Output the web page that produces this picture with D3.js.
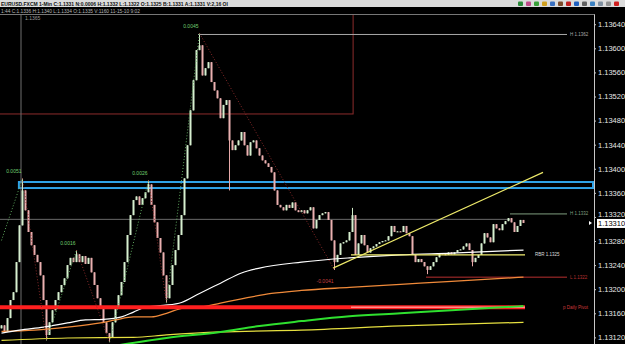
<!DOCTYPE html>
<html>
<head>
<meta charset="utf-8">
<script src="https://cdn.jsdelivr.net/npm/d3@7"></script>
<style>
html, body { margin: 0; padding: 0; background: #000; overflow: hidden; }
svg { display: block; }
</style>
</head>
<body>
<div class="chart"></div>
<script>
var width = 625, height = 344,
    plotTop = 14, plotRight = 594, nSlots = 198;

// 1-minute closes, one per bar
var closes = [1.13140,1.13129,1.13152,1.13182,1.13195,1.13245,1.13306,1.13364,1.13331,1.13295,
  1.13273,1.13257,1.13245,1.13223,1.13182,1.13124,1.13145,1.13165,1.13182,1.13195,
  1.13207,1.13218,1.13240,1.13252,1.13245,1.13258,1.13245,1.13255,1.13242,1.13252,
  1.13228,1.13207,1.13185,1.13169,1.13145,1.13127,1.13119,1.13145,1.13169,1.13190,
  1.13212,1.13245,1.13290,1.13323,1.13348,1.13354,1.13340,1.13351,1.13361,1.13374,
  1.13340,1.13311,1.13285,1.13261,1.13223,1.13185,1.13207,1.13240,1.13265,1.13290,
  1.13323,1.13384,1.13439,1.13497,1.13547,1.13597,1.13605,1.13555,1.13567,1.13577,
  1.13544,1.13530,1.13517,1.13484,1.13506,1.13514,1.13447,1.13431,1.13439,1.13447,
  1.13461,1.13439,1.13422,1.13444,1.13447,1.13434,1.13422,1.13414,1.13409,1.13403,
  1.13394,1.13364,1.13340,1.13336,1.13331,1.13340,1.13335,1.13344,1.13331,1.13328,
  1.13331,1.13326,1.13331,1.13336,1.13301,1.13315,1.13323,1.13326,1.13328,1.13315,
  1.13281,1.13245,1.13257,1.13276,1.13278,1.13281,1.13295,1.13323,1.13257,1.13276,
  1.13290,1.13273,1.13261,1.13268,1.13271,1.13275,1.13278,1.13280,1.13281,1.13288,
  1.13305,1.13295,1.13296,1.13295,1.13305,1.13293,1.13288,1.13257,1.13245,1.13250,
  1.13245,1.13238,1.13232,1.13238,1.13245,1.13253,1.13260,1.13258,1.13257,1.13261,
  1.13258,1.13261,1.13265,1.13266,1.13271,1.13276,1.13265,1.13245,1.13252,1.13257,
  1.13276,1.13293,1.13286,1.13278,1.13308,1.13301,1.13298,1.13308,1.13313,1.13318,
  1.13311,1.13295,1.13305,1.13315,1.13310];
var firstOpen = 1.13135;
// wick extremes of the spiky bars (bar index -> price)
var spikeHighs = {7: 1.13384, 25: 1.13265, 49: 1.13381, 66: 1.13625, 117: 1.13335};
var spikeLows = {15: 1.13115, 36: 1.13112, 55: 1.13177, 76: 1.13364, 111: 1.13232, 142: 1.13225, 157: 1.13238};

// moving averages, [bar index, price]
var whiteMA = [[0,1.13127],[6,1.13132],[14,1.13137],[22,1.13144],[28,1.13149],[34,1.13150],[40,1.13154],
  [44,1.13162],[48,1.13170],[54,1.13173],[60,1.13178],[66,1.13193],[73,1.13210],[80,1.13227],[86,1.13235],
  [100,1.13245],[116,1.13252],[133,1.13257],[150,1.13260],[174,1.13265]];
var orangeMA = [[0,1.13130],[11,1.13132],[22,1.13137],[33,1.13144],[38,1.13149],[44,1.13154],[50,1.13154],
  [55,1.13160],[61,1.13169],[66,1.13170],[73,1.13177],[80,1.13184],[90,1.13193],[100,1.13198],[116,1.13203],
  [133,1.13208],[150,1.13213],[174,1.13220]];
var yellowMA = [[0,1.13115],[22,1.13119],[44,1.13120],[55,1.13124],[73,1.13129],[100,1.13132],[133,1.13139],[174,1.13145]];
var greenMA = [[39,1.13107],[55,1.13119],[73,1.13129],[86,1.13139],[100,1.13147],[116,1.13155],[133,1.13160],[150,1.13165],[174,1.13172]];

// zigzag swing points and leg labels
var swings = [[0,1.13281],[7,1.13384],[15,1.13115],[25,1.13265],[36,1.13112],[49,1.13381],[55,1.13177],[66,1.13625],[111,1.13232]];
var swingLabels = ["", "0.0051", "", "0.0016", "", "0.0026", "", "0.0045", "-0.0041"];

// levels drawn on the chart
var levelNames = ["H 1.1362", "H 1.1332", "L 1.1322"];
var levelPrices = [1.13623, 1.13325, 1.13220];
var levelStarts = [66, 170, 142];
var levelColors = ["#a8a8a8", "#7f9f7f", "#b83030"];
var levelEnd = 189;
var pivotPrice = 1.13170, pivotName = "p Daily Pivot";
var rbrPrice = 1.13257, rbrStart = 117, rbrName = "RBR 1.1325";
var greyLevel = 1.13316;
var trendLine = [[111, 1.13235], [181, 1.13394]];
var zoneBlue = [1.13368, 1.13378], zoneBlueStart = 6.3;
var boxBrown = [1.13491, 117.7];
var sessionBar = 7, sessionLabel = "1.1365";

var yTicks = [1.13120,1.13160,1.13200,1.13240,1.13280,1.13320,1.13360,1.13400,1.13440,1.13480,1.13520,1.13560,1.13600,1.13640];
var lastPrice = 1.13310;
var header1 = "EURUSD.FXCM 1-Min  C:1.1331  N:0.0006  H:1.1332  L:1.1322  O:1.1325  B:1.1331  A:1.1331  V:2,16  OI";
var header2 = "1:44  C:1.1336  H:1.1340  L:1.1334  O:1.1335  V:1160  11-15-10  9:02";
var toolColors = ["#2a8a3a","#c04a8a","#3aa03a","#d0a020","#3a70c0","#7a4a2a","#c02020","#2060c0","#606060","#3a80c0","#8090a0","#909090","#d02020"];

var x = d3.scaleLinear().domain([0, nSlots]).range([0, plotRight]);
var y = d3.scaleLinear().domain([1.13109, 1.13657]).range([height, plotTop]);

var svg = d3.select(".chart").append("svg")
    .attr("width", width)
    .attr("height", height)
    .style("font-family", "'Liberation Sans', Arial, sans-serif");

svg.append("rect").attr("width", width).attr("height", height).attr("fill", "#000");

svg.append("defs").append("clipPath").attr("id", "plotclip")
  .append("rect").attr("x", 0).attr("y", plotTop).attr("width", plotRight).attr("height", height - plotTop);

var plot = svg.append("g").attr("clip-path", "url(#plotclip)");

// brown box and blue zone
plot.append("rect")
    .attr("x", -5).attr("y", plotTop - 5)
    .attr("width", x(boxBrown[1]) + 5)
    .attr("height", y(boxBrown[0]) - plotTop + 5)
    .attr("fill", "none").attr("stroke", "#8c2c2c").attr("stroke-width", 1);

plot.append("rect")
    .attr("x", x(zoneBlueStart)).attr("y", y(zoneBlue[1]))
    .attr("width", plotRight - x(zoneBlueStart) - 1)
    .attr("height", y(zoneBlue[0]) - y(zoneBlue[1]))
    .attr("fill", "none").attr("stroke", "#2fa3e8").attr("stroke-width", 2);

// session line
plot.append("line")
    .attr("x1", x(sessionBar)).attr("x2", x(sessionBar))
    .attr("y1", plotTop).attr("y2", height)
    .attr("stroke", "#6e6e6e").attr("stroke-width", 1);

plot.append("line")
    .attr("x1", 0).attr("x2", x(levelStarts[1]))
    .attr("y1", y(greyLevel)).attr("y2", y(greyLevel))
    .attr("stroke", "#6a6a6a").attr("stroke-width", 1);

plot.selectAll(".level")
    .data(levelPrices)
    .enter()
    .append("line")
    .attr("class", "level")
    .attr("x1", function(d, i) { return x(levelStarts[i]); })
    .attr("x2", x(levelEnd))
    .attr("y1", function(d) { return y(d); })
    .attr("y2", function(d) { return y(d); })
    .attr("stroke", function(d, i) { return levelColors[i]; })
    .attr("stroke-width", 1);

// candles
var bars = closes.map(function(c, i) {
  var o = i == 0 ? firstOpen : closes[i - 1];
  var hi = Math.max(o, c), lo = Math.min(o, c);
  if (spikeHighs[i] != null) hi = Math.max(hi, spikeHighs[i]);
  if (spikeLows[i] != null) lo = Math.min(lo, spikeLows[i]);
  return {i: i, o: o, c: c, h: hi, l: lo};
});

var candles = plot.append("g").attr("class", "candles");
candles.selectAll(".wick")
    .data(bars)
    .enter()
    .append("line")
    .attr("x1", function(d) { return x(d.i + 0.5); })
    .attr("x2", function(d) { return x(d.i + 0.5); })
    .attr("y1", function(d) { return y(d.h); })
    .attr("y2", function(d) { return y(d.l); })
    .attr("stroke", function(d) { return d.c >= d.o ? "#cfe9c6" : "#e7a9a9"; })
    .attr("stroke-width", 1);

candles.selectAll(".body")
    .data(bars)
    .enter()
    .append("rect")
    .attr("x", function(d) { return x(d.i + 0.5) - 1; })
    .attr("width", 2)
    .attr("y", function(d) { return y(Math.max(d.o, d.c)); })
    .attr("height", function(d) { return Math.max(1, Math.abs(y(d.o) - y(d.c))); })
    .attr("fill", function(d) { return d.c >= d.o ? "#d6efcf" : "#eab0b0"; });

// moving averages
var maLine = d3.line()
    .x(function(d) { return x(d[0] + 0.5); })
    .y(function(d) { return y(d[1]); })
    .curve(d3.curveMonotoneX);

plot.append("path").datum(yellowMA).attr("d", maLine)
    .attr("fill", "none").attr("stroke", "#e6e040").attr("stroke-width", 1.2);
plot.append("path").datum(orangeMA).attr("d", maLine)
    .attr("fill", "none").attr("stroke", "#f08a3a").attr("stroke-width", 1.3);
plot.append("path").datum(whiteMA).attr("d", maLine)
    .attr("fill", "none").attr("stroke", "#ffffff").attr("stroke-width", 1.2);

// daily pivot
plot.append("line")
    .attr("x1", 0).attr("x2", x(closes.length))
    .attr("y1", y(pivotPrice)).attr("y2", y(pivotPrice))
    .attr("stroke", "#ff1f1f").attr("stroke-width", 4);
plot.append("line")
    .attr("x1", x(rbrStart)).attr("x2", x(closes.length))
    .attr("y1", y(pivotPrice)).attr("y2", y(pivotPrice))
    .attr("stroke", "#ff8a8a").attr("stroke-width", 1.5);

plot.append("path").datum(greenMA).attr("d", maLine)
    .attr("fill", "none").attr("stroke", "#2fe02f").attr("stroke-width", 2);

// RBR level and trend line
plot.append("line")
    .attr("x1", x(rbrStart)).attr("x2", x(closes.length))
    .attr("y1", y(rbrPrice)).attr("y2", y(rbrPrice))
    .attr("stroke", "#f2ee70").attr("stroke-width", 1.2);

plot.append("line")
    .attr("x1", x(trendLine[0][0])).attr("y1", y(trendLine[0][1]))
    .attr("x2", x(trendLine[1][0])).attr("y2", y(trendLine[1][1]))
    .attr("stroke", "#eeea6a").attr("stroke-width", 1.2);

// zigzag
var legs = d3.pairs(swings);
plot.selectAll(".leg")
    .data(legs)
    .enter()
    .append("line")
    .attr("x1", function(d) { return x(d[0][0] + 0.5); })
    .attr("y1", function(d) { return y(d[0][1]); })
    .attr("x2", function(d) { return x(d[1][0] + 0.5); })
    .attr("y2", function(d) { return y(d[1][1]); })
    .attr("stroke", function(d) { return d[1][1] > d[0][1] ? "#5fa85f" : "#8a2a2a"; })
    .attr("stroke-width", 1)
    .attr("stroke-dasharray", "1,2");

plot.selectAll(".swinglabel")
    .data(swings)
    .enter()
    .append("text")
    .text(function(d, i) { return swingLabels[i]; })
    .attr("x", function(d) { return x(d[0] + 0.5); })
    .attr("text-anchor", "end")
    .attr("dx", -1)
    .attr("y", function(d, i) { return i == 8 ? y(d[1]) + 13 : y(d[1]) - 5; })
    .attr("font-size", "5px")
    .attr("fill", function(d, i) { return i == 8 ? "#c84040" : "#6fcf6f"; });

plot.append("text").text(sessionLabel)
    .attr("x", x(sessionBar) + 4).attr("y", plotTop + 6)
    .attr("font-size", "5px").attr("fill", "#9a9a9a");

// level labels
svg.selectAll(".levellabel")
    .data(levelPrices)
    .enter()
    .append("text")
    .text(function(d, i) { return levelNames[i]; })
    .attr("x", x(levelEnd) + 3)
    .attr("y", function(d) { return y(d) + 1.5; })
    .attr("font-size", "4.5px")
    .attr("fill", function(d, i) { return levelColors[i]; });

svg.append("text").text(rbrName)
    .attr("x", x(closes.length) + 10).attr("y", y(rbrPrice) + 1.5)
    .attr("font-size", "4.5px").attr("fill", "#dddddd");
svg.append("text").text(pivotName)
    .attr("x", x(levelEnd) - 4).attr("y", y(pivotPrice) + 1.5)
    .attr("font-size", "4.5px").attr("fill", "#d03a3a");

// price axis
var axisG = svg.append("g")
    .attr("transform", "translate(" + plotRight + ",0)")
    .call(d3.axisRight(y).tickValues(yTicks).tickSize(2).tickPadding(2)
      .tickFormat(function(d) { return d.toFixed(5); }));
axisG.select(".domain").attr("stroke", "#c8c8c8").attr("d", "M0.5," + plotTop + "V" + height);
axisG.selectAll(".tick line").attr("stroke", "#c8c8c8");
axisG.selectAll(".tick text")
    .attr("fill", "#e6e6e6")
    .attr("font-size", "7.5px")
    .attr("font-family", "'Liberation Sans', Arial, sans-serif");
// the price tag covers the lower half of the nearest tick label, lift it a little
axisG.selectAll(".tick")
    .filter(function(d) { return Math.abs(y(d) - y(lastPrice)) < 10; })
    .select("text").attr("dy", "-0.1em");

// last price tag
svg.append("rect")
    .attr("x", plotRight + 3).attr("y", y(lastPrice) - 4)
    .attr("width", width - plotRight - 3).attr("height", 9)
    .attr("fill", "#ffffff");
svg.append("text").text(lastPrice.toFixed(5))
    .attr("x", plotRight + 4).attr("y", y(lastPrice) + 3)
    .attr("font-size", "7.5px").attr("fill", "#000");
svg.append("path")
    .attr("d", "M" + (plotRight - 5) + "," + (y(lastPrice) - 2) + "l3,2l-3,2z")
    .attr("fill", "#ffffff");

// header
svg.append("rect").attr("x", 0).attr("y", 0).attr("width", width).attr("height", 7).attr("fill", "#dcdcdc");
svg.append("text").text(header1)
    .attr("x", 1).attr("y", 5.5)
    .attr("font-size", "5px").attr("font-weight", "bold").attr("fill", "#111");
svg.append("text").text(header2)
    .attr("x", 1).attr("y", 12.5)
    .attr("font-size", "4.8px").attr("fill", "#b8b8b8");
svg.append("line")
    .attr("x1", 0).attr("x2", plotRight + 0.5)
    .attr("y1", plotTop + 0.5).attr("y2", plotTop + 0.5)
    .attr("stroke", "#777");

svg.selectAll(".tool")
    .data(toolColors)
    .enter()
    .append("rect")
    .attr("x", function(d, i) { return 518 + i * 8; })
    .attr("y", 1.5)
    .attr("width", 5).attr("height", 4.5)
    .attr("rx", 1)
    .attr("fill", function(d) { return d; });
</script>
</body>
</html>
